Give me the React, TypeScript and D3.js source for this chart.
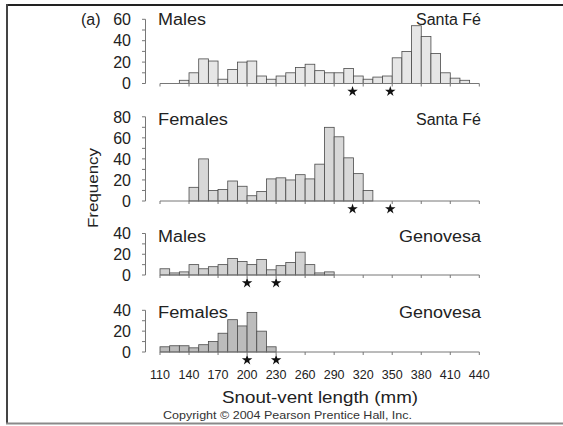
import React from "react";
import * as d3 from "d3";

// Snout-vent length histograms (10 mm bins), counts per bin
const binWidth = 10;
const maleSantaFeStart = 130;
const maleSantaFe = [3, 10, 23, 21, 4, 13, 20, 21, 7, 4, 7, 10, 15, 18, 12, 10, 10, 14, 7, 4, 6, 7, 24, 30, 54, 44, 28, 10, 5, 3];
const femaleSantaFeStart = 140;
const femaleSantaFe = [13, 40, 10, 11, 19, 14, 5, 9, 21, 22, 20, 25, 21, 35, 70, 61, 41, 26, 10];
const maleGenovesaStart = 110;
const maleGenovesa = [6, 2, 3, 10, 6, 8, 10, 16, 13, 10, 15, 5, 9, 12, 22, 10, 2, 3];
const femaleGenovesaStart = 110;
const femaleGenovesa = [5, 6, 6, 4, 7, 10, 18, 31, 25, 38, 20, 5];

// Marked sizes (stars under the axis)
const santaFeStars = [309, 348];
const genovesaStars = [200, 230];

const xTicks = [110, 140, 170, 200, 230, 260, 290, 320, 350, 380, 410, 440];
const yTicks60 = [0, 20, 40, 60];
const yTicks80 = [0, 20, 40, 60, 80];
const yTicks40 = [0, 20, 40];

const FONT = "'Liberation Sans', Arial, Helvetica, sans-serif";

const x = d3.scaleLinear().domain([110, 440]).range([160, 479.3]);

type Panel = {
  sex: string;
  island: string;
  start: number;
  counts: number[];
  stars: number[];
  ticks: number[];
  yMax: number;
  y0: number;
  yTop: number;
  titleY: number;
  fill: string;
  sexWidth: number;
  islandWidth: number;
};

const panels: Panel[] = [
  { sex: "Males", island: "Santa Fé", start: maleSantaFeStart, counts: maleSantaFe, stars: santaFeStars, ticks: yTicks60, yMax: 60, y0: 83.5, yTop: 19.3, titleY: 24.8, fill: "#e6e6e6", sexWidth: 48, islandWidth: 65 },
  { sex: "Females", island: "Santa Fé", start: femaleSantaFeStart, counts: femaleSantaFe, stars: santaFeStars, ticks: yTicks80, yMax: 80, y0: 201, yTop: 116.8, titleY: 125, fill: "#d8d8d8", sexWidth: 70, islandWidth: 65 },
  { sex: "Males", island: "Genovesa", start: maleGenovesaStart, counts: maleGenovesa, stars: genovesaStars, ticks: yTicks40, yMax: 40, y0: 275, yTop: 233.5, titleY: 241.5, fill: "#d2d2d2", sexWidth: 48, islandWidth: 82 },
  { sex: "Females", island: "Genovesa", start: femaleGenovesaStart, counts: femaleGenovesa, stars: genovesaStars, ticks: yTicks40, yMax: 40, y0: 352, yTop: 310.3, titleY: 318, fill: "#bcbcbc", sexWidth: 70, islandWidth: 82 },
];

const starPath = d3.symbol().type(d3.symbolStar).size(34)() as string;

function HistPanel({ p }: { p: Panel }) {
  const y = d3.scaleLinear().domain([0, p.yMax]).range([p.y0, p.yTop]);
  const minor = d3.range(0, p.yMax + 1, 10);
  const axisX = 145.5;
  return (
    <g>
      {/* y axis */}
      <line x1={axisX} x2={axisX} y1={y(0)} y2={y(p.yMax)} stroke="#777" strokeWidth={1} />
      {minor.map((t) => (
        <line key={t} x1={axisX - 3.5} x2={axisX} y1={y(t)} y2={y(t)} stroke="#777" strokeWidth={1} />
      ))}
      {p.ticks.map((t) => (
        <text key={t} x={131} y={y(t)} dy="0.36em" textAnchor="end" fontSize={16} fill="#222" fontFamily={FONT}>
          {t}
        </text>
      ))}
      {/* bars */}
      {p.counts.map((c, i) => {
        const b = p.start + i * binWidth;
        return (
          <rect
            key={b}
            x={x(b)}
            width={x(b + binWidth) - x(b)}
            y={y(c)}
            height={y(0) - y(c)}
            fill={p.fill}
            stroke="#4a4a4a"
            strokeWidth={0.8}
          />
        );
      })}
      {/* x axis */}
      <line x1={x(110)} x2={x(440)} y1={p.y0} y2={p.y0} stroke="#777" strokeWidth={1} />
      {xTicks.map((t) => (
        <line key={t} x1={x(t)} x2={x(t)} y1={p.y0} y2={p.y0 + 3} stroke="#777" strokeWidth={1} />
      ))}
      {p.stars.map((s) => (
        <path key={s} d={starPath} transform={`translate(${x(s)},${p.y0 + 8})`} fill="#111" />
      ))}
      <text x={158} y={p.titleY} fontSize={16} fill="#222" fontFamily={FONT} textLength={p.sexWidth} lengthAdjust="spacingAndGlyphs">
        {p.sex}
      </text>
      <text x={481 - p.islandWidth} y={p.titleY} fontSize={16} fill="#222" fontFamily={FONT} textLength={p.islandWidth} lengthAdjust="spacingAndGlyphs">
        {p.island}
      </text>
    </g>
  );
}

export default function App() {
  return (
    <svg width={563} height={426} style={{ position: "absolute", left: 0, top: 0, background: "#fff" }}>
      <rect x={0} y={0} width={563} height={426} fill="#fff" />
      {/* frame */}
      <line x1={6} x2={563} y1={5} y2={5} stroke="#222" strokeWidth={2} />
      <line x1={7} x2={7} y1={4} y2={424} stroke="#444" strokeWidth={2} />
      <line x1={6} x2={563} y1={423.5} y2={423.5} stroke="#8a8a8a" strokeWidth={2} />

      <text x={81} y={19.3} dy="0.36em" fontSize={16} fill="#222" fontFamily={FONT}>
        (a)
      </text>
      {panels.map((p, i) => (
        <HistPanel key={i} p={p} />
      ))}
      {/* shared x tick labels */}
      {xTicks.map((t) => (
        <text key={t} x={x(t)} y={378.5} textAnchor="middle" fontSize={12.5} fill="#222" fontFamily={FONT}>
          {t}
        </text>
      ))}
      <text x={320} y={402.5} textAnchor="middle" fontSize={16.5} fill="#222" fontFamily={FONT} textLength={196} lengthAdjust="spacingAndGlyphs">
        Snout-vent length (mm)
      </text>
      <text
        transform="translate(98.3,188) rotate(-90)"
        textAnchor="middle"
        fontSize={15}
        fill="#222"
        fontFamily={FONT}
        textLength={80}
        lengthAdjust="spacingAndGlyphs"
      >
        Frequency
      </text>
      <text x={287.5} y={419} textAnchor="middle" fontSize={11} fill="#333" fontFamily={FONT} textLength={249} lengthAdjust="spacingAndGlyphs">
        Copyright © 2004 Pearson Prentice Hall, Inc.
      </text>
    </svg>
  );
}
